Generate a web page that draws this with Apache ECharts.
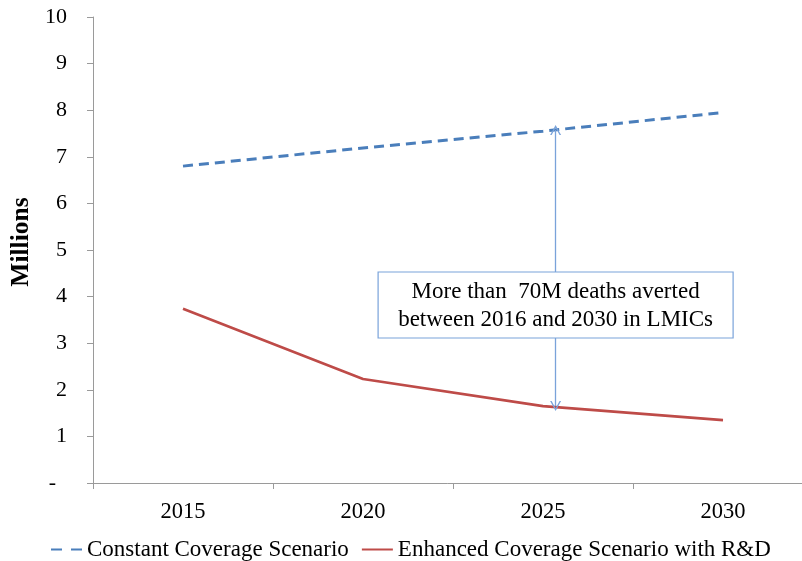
<!DOCTYPE html>
<html>
<head>
<meta charset="utf-8">
<script src="https://cdn.jsdelivr.net/npm/echarts@6/dist/echarts.min.js"></script>
<style>
  html, body { margin: 0; padding: 0; background: #fff; }
  #chart { width: 802px; height: 561px; }
</style>
</head>
<body>
<div id="chart"></div>
<script>
// Annual deaths (millions) under two coverage scenarios
const years = ['2015', '2020', '2025', '2030'];
const constantCoverage = [6.80, 7.19, 7.55, 7.95];
const enhancedCoverage = [3.74, 2.23, 1.65, 1.35];
const yTicks = [0, 1, 2, 3, 4, 5, 6, 7, 8, 9, 10];

// Gap annotation: position along the year axis (category index units) and its ends
const gapPosition = 2.07;
const gapTop = 7.575;
const gapBottom = 1.65;
const annotationCenterValue = 3.82;
const annotationLines = ['More than  70M deaths averted', 'between 2016 and 2030 in LMICs'];

const FONT = '"Liberation Serif", "Times New Roman", serif';
const BLUE = '#4a7ebb';
const RED = '#be4b48';
const ARROW = '#7aa3da';
const AXIS = '#9a9a9a';
const CHEVRON = 'path://M0,10 L5,0 L10,10 L8.6,10 L5,2.8 L1.4,10 Z';

const chart = echarts.init(document.getElementById('chart'));

chart.setOption({
  animation: false,
  grid: { left: 93, top: 17, width: 720, bottom: 78, outerBoundsMode: 'none', containLabel: false },
  xAxis: [
    {
      type: 'category',
      data: years,
      boundaryGap: true,
      axisLine: { onZero: false, lineStyle: { color: AXIS, width: 1 } },
      axisTick: { show: true, length: 6, lineStyle: { color: AXIS } },
      axisLabel: { fontFamily: FONT, fontSize: 22.5, color: '#000', margin: 18 }
    },
    {
      // helper axis aligned with the category bands, used for the annotation
      type: 'value',
      min: -0.5,
      max: years.length - 0.5,
      show: false,
      position: 'bottom',
      axisLine: { onZero: false }
    }
  ],
  yAxis: {
    type: 'value',
    min: yTicks[0],
    max: yTicks[yTicks.length - 1],
    interval: 1,
    name: 'Millions',
    nameLocation: 'middle',
    nameRotate: 90,
    nameGap: 56,
    nameTextStyle: {
      fontFamily: FONT, fontSize: 25.5, fontWeight: 'bold', color: '#000',
      padding: [0, 0, 0, 16]
    },
    axisLine: { show: true, onZero: false, lineStyle: { color: AXIS, width: 1 } },
    axisTick: { show: true, length: 6, lineStyle: { color: AXIS } },
    splitLine: { show: false },
    axisLabel: {
      fontFamily: FONT, fontSize: 22, color: '#000', margin: 26,
      formatter: v => (v === 0 ? '-  ' : String(v))
    }
  },
  legend: {
    bottom: -5,
    left: 45,
    itemWidth: 31,
    itemHeight: 14,
    itemGap: 12,
    itemStyle: { opacity: 0 },
    textStyle: { fontFamily: FONT, fontSize: 23, color: '#000' },
    data: [
      { name: 'Constant Coverage Scenario', lineStyle: { type: [11, 9] } },
      { name: 'Enhanced Coverage Scenario with R&D' }
    ]
  },
  series: [
    {
      name: 'Constant Coverage Scenario',
      type: 'line',
      data: constantCoverage,
      showSymbol: false,
      symbol: 'none',
      itemStyle: { color: BLUE },
      lineStyle: { color: BLUE, width: 3, type: [10, 6] }
    },
    {
      name: 'Enhanced Coverage Scenario with R&D',
      type: 'line',
      data: enhancedCoverage,
      showSymbol: false,
      symbol: 'none',
      itemStyle: { color: RED },
      lineStyle: { color: RED, width: 2.6 }
    },
    {
      name: 'gap',
      type: 'line',
      xAxisIndex: 1,
      data: [],
      markLine: {
        silent: true,
        symbol: [CHEVRON, CHEVRON],
        symbolSize: [11, 10],
        lineStyle: { color: ARROW, width: 1.3, type: 'solid' },
        itemStyle: { color: ARROW },
        label: { show: false },
        data: [[
          { coord: [gapPosition, gapTop] },
          { coord: [gapPosition, gapBottom] }
        ]]
      }
    }
  ]
});

// Text box sitting on the gap arrow
const c = chart.convertToPixel({ xAxisIndex: 1, yAxisIndex: 0 }, [gapPosition, annotationCenterValue]);
const boxW = 355, boxH = 66;
chart.setOption({
  graphic: [{
    type: 'group',
    x: c[0], y: c[1],
    children: [
      {
        type: 'rect',
        shape: { x: -boxW / 2, y: -boxH / 2, width: boxW, height: boxH },
        style: { fill: '#fff', stroke: ARROW, lineWidth: 1.2 },
        z: 10
      },
      {
        type: 'text',
        x: 0, y: 1,
        style: {
          text: annotationLines.join('\n'),
          fontFamily: FONT, fontSize: 23, fill: '#000',
          align: 'center', verticalAlign: 'middle', lineHeight: 28
        },
        z: 11
      }
    ]
  }]
});
</script>
</body>
</html>
